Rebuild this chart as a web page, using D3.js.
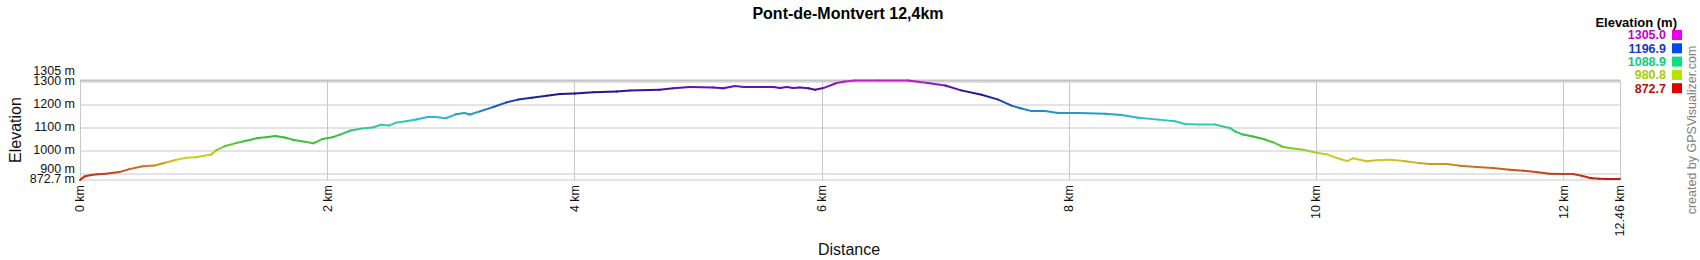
<!DOCTYPE html>
<html>
<head>
<meta charset="utf-8">
<script src="https://cdn.jsdelivr.net/npm/d3@7"></script>
<style>
  body { margin: 0; background: #fff; }
  svg text { font-family: Arial, "Liberation Sans", sans-serif; }
</style>
</head>
<body>
<svg width="1700" height="260"></svg>
<script>
// profile: distance (km) and elevation (m)
var distKm = [0, 0.035, 0.089, 0.143, 0.21, 0.318, 0.40, 0.507, 0.604, 0.696, 0.78, 0.858, 0.94, 0.99,
  1.06, 1.10, 1.168, 1.262, 1.343, 1.437, 1.505, 1.58, 1.656, 1.72, 1.83, 1.888, 1.964,
  2.045, 2.11, 2.19, 2.287, 2.368, 2.435, 2.50, 2.557, 2.638, 2.72, 2.813, 2.88, 2.96,
  3.04, 3.11, 3.155, 3.236, 3.344, 3.452, 3.546, 3.654, 3.776, 3.883,
  4.005, 4.153, 4.342, 4.45, 4.69, 4.80, 4.935,
  5.124, 5.205, 5.30, 5.368, 5.61, 5.663, 5.718, 5.772, 5.825, 5.893, 5.947,
  6.014, 6.122, 6.19, 6.27, 6.46, 6.70, 6.86,
  7.0, 7.13, 7.295, 7.43, 7.537, 7.618, 7.70, 7.807, 7.915,
  8.077, 8.293, 8.428, 8.563, 8.725, 8.86, 8.94,
  9.048, 9.183, 9.264, 9.304, 9.345, 9.41, 9.49, 9.575, 9.655, 9.736, 9.817, 9.898,
  10.005, 10.09, 10.17, 10.25, 10.30, 10.41, 10.49, 10.60, 10.71, 10.84, 10.92,
  11.06, 11.165, 11.30, 11.43, 11.57, 11.68, 11.78, 11.89,
  12.0, 12.08, 12.15, 12.22, 12.29, 12.36, 12.46];
var elevM = [872.7, 888, 894, 898, 900, 907, 920, 932, 936, 949, 961, 969, 972, 977,
  983, 1001, 1019, 1033, 1043, 1055, 1058, 1064, 1057, 1048, 1038, 1032, 1051,
  1059, 1071, 1088, 1097, 1101, 1113, 1109, 1122, 1128, 1136, 1146, 1146, 1141,
  1158, 1164, 1157, 1171, 1190, 1210, 1222, 1230, 1239, 1246,
  1248, 1254, 1257, 1262, 1265, 1271, 1277,
  1275, 1271, 1281, 1277, 1277, 1272, 1277, 1272, 1275, 1271, 1265,
  1272, 1294, 1301, 1305, 1305, 1305, 1294,
  1283, 1262, 1243, 1222, 1196, 1183, 1172, 1172, 1164,
  1164, 1161, 1155, 1143, 1135, 1128, 1116,
  1114, 1114, 1103, 1099, 1084, 1070, 1062, 1051, 1036, 1016, 1010, 1004,
  991, 984, 968, 955, 967, 954, 959, 961, 955, 946, 942,
  942, 935, 929, 925, 917, 913, 907, 900,
  899, 899, 891, 881, 878, 877, 877];

var yTicks = [1305, 1300, 1200, 1100, 1000, 900, 872.7];
var yTickLabels = ["1305 m", "1300 m", "1200 m", "1100 m", "1000 m", "900 m", "872.7 m"];
var xTicks = [0, 2, 4, 6, 8, 10, 12, 12.46];
var legendValues = ["1305.0", "1196.9", "1088.9", "980.8", "872.7"];
var legendText = ["#c400c4", "#1838c8", "#10cc78", "#a8cc00", "#b81010"];
var legendBox = ["#ee00ee", "#0048f0", "#10dc80", "#b4e400", "#e00000"];

// line colour by elevation
var colorStops = [872.7, 900, 930, 950, 965, 990, 1010, 1040, 1065, 1090, 1115, 1145, 1170, 1195, 1220, 1245, 1260, 1277, 1290, 1305];
var colorRange = ["#c01818", "#c04020", "#c87020", "#d0b020", "#d0d020", "#b0d020", "#80cc28", "#40c030", "#30c040",
  "#30c878", "#30ccb0", "#30b8d0", "#2090c8", "#1a60b8", "#1a38a0", "#1a1a88", "#30109a", "#6a10b0", "#9018c0", "#c820c8"];

var margin = { top: 80.5, left: 80, right: 80, bottom: 80 },
    width = 1620 - margin.left,
    height = 180 - margin.top;

var svg = d3.select("svg");
var g = svg.append("g").attr("transform", "translate(" + margin.left + "," + margin.top + ")");

var x = d3.scaleLinear().domain([0, 12.46]).range([0, width]);
var y = d3.scaleLinear().domain([872.7, 1305]).range([height, 0]);
var color = d3.scaleLinear().domain(colorStops).range(colorRange).clamp(true);

// grid
g.append("g")
    .selectAll("line")
    .data([1300, 1200, 1100, 1000, 900])
    .enter().append("line")
    .attr("x1", 0).attr("x2", width)
    .attr("y1", function(d) { return Math.round(y(d)) + 0.5; })
    .attr("y2", function(d) { return Math.round(y(d)) + 0.5; })
    .attr("stroke", "#c8c8c8");

g.append("g")
    .selectAll("line")
    .data(xTicks)
    .enter().append("line")
    .attr("x1", function(d) { return Math.round(x(d)) + 0.5; })
    .attr("x2", function(d) { return Math.round(x(d)) + 0.5; })
    .attr("y1", 0).attr("y2", height)
    .attr("stroke", "#c8c8c8");

// frame
g.append("line").attr("x1", 0).attr("x2", width).attr("y1", 0).attr("y2", 0)
    .attr("stroke", "#c4c4c4").attr("stroke-width", 2);
g.append("line").attr("x1", 0).attr("x2", width).attr("y1", height).attr("y2", height)
    .attr("stroke", "#c8c8c8");

// profile, one segment per step so each gets its own colour
var pts = distKm.map(function(d, i) { return { d: d, e: elevM[i] }; });
g.append("g")
    .selectAll("line")
    .data(pts.slice(1))
    .enter().append("line")
    .attr("x1", function(p, i) { return x(pts[i].d); })
    .attr("y1", function(p, i) { return y(pts[i].e); })
    .attr("x2", function(p) { return x(p.d); })
    .attr("y2", function(p) { return y(p.e); })
    .attr("stroke", function(p, i) { return color((p.e + pts[i].e) / 2); })
    .attr("stroke-width", 2)
    .attr("stroke-linecap", "round");

// y labels, nudged apart where they would overlap
var yPos = yTicks.map(function(v) { return y(v); });
for (var i = yPos.length - 2; i >= 0; i--) {
    if (yPos[i] > yPos[i + 1] - 10) yPos[i] = yPos[i + 1] - 10;
}
g.append("g")
    .selectAll("text")
    .data(yTickLabels)
    .enter().append("text")
    .attr("x", -5)
    .attr("y", function(d, i) { return yPos[i] - 1; })
    .attr("dy", "0.35em")
    .attr("text-anchor", "end")
    .style("font-size", "12.5px")
    .attr("fill", "#111")
    .text(function(d) { return d; });

// x labels, rotated
g.append("g")
    .selectAll("text")
    .data(xTicks)
    .enter().append("text")
    .attr("transform", function(d) { return "translate(" + x(d) + "," + (height + 5) + ")rotate(-90)"; })
    .attr("dy", "0.35em")
    .attr("text-anchor", "end")
    .style("font-size", "12.5px")
    .attr("fill", "#111")
    .text(function(d) { return d + " km"; });

// titles
svg.append("text")
    .attr("x", 848).attr("y", 18.5)
    .attr("text-anchor", "middle")
    .style("font-size", "16px").style("font-weight", "bold")
    .text("Pont-de-Montvert 12,4km");

svg.append("text")
    .attr("x", 849).attr("y", 255)
    .attr("text-anchor", "middle")
    .style("font-size", "16px")
    .attr("fill", "#111")
    .text("Distance");

svg.append("text")
    .attr("transform", "translate(15,130)rotate(-90)")
    .attr("dy", "0.35em")
    .attr("text-anchor", "middle")
    .style("font-size", "16px")
    .attr("fill", "#111")
    .text("Elevation");

svg.append("text")
    .attr("transform", "translate(1692,130)rotate(-90)")
    .attr("dy", "0.35em")
    .attr("text-anchor", "middle")
    .style("font-size", "12.5px")
    .attr("fill", "#808080")
    .text("created by GPSVisualizer.com");

// legend
var legend = svg.append("g");
legend.append("text")
    .attr("x", 1677).attr("y", 27)
    .attr("text-anchor", "end")
    .style("font-size", "13px").style("font-weight", "bold")
    .text("Elevation (m)");

legend.selectAll(".lv")
    .data(legendValues)
    .enter().append("text")
    .attr("x", 1666)
    .attr("y", function(d, i) { return 35 + i * 13.3; })
    .attr("dy", "0.35em")
    .attr("text-anchor", "end")
    .style("font-size", "12.5px").style("font-weight", "bold")
    .attr("fill", function(d, i) { return legendText[i]; })
    .text(function(d) { return d; });

legend.selectAll("rect")
    .data(legendValues)
    .enter().append("rect")
    .attr("x", 1672)
    .attr("y", function(d, i) { return 30 + i * 13.3; })
    .attr("width", 10).attr("height", 10)
    .attr("fill", function(d, i) { return legendBox[i]; });
</script>
</body>
</html>
